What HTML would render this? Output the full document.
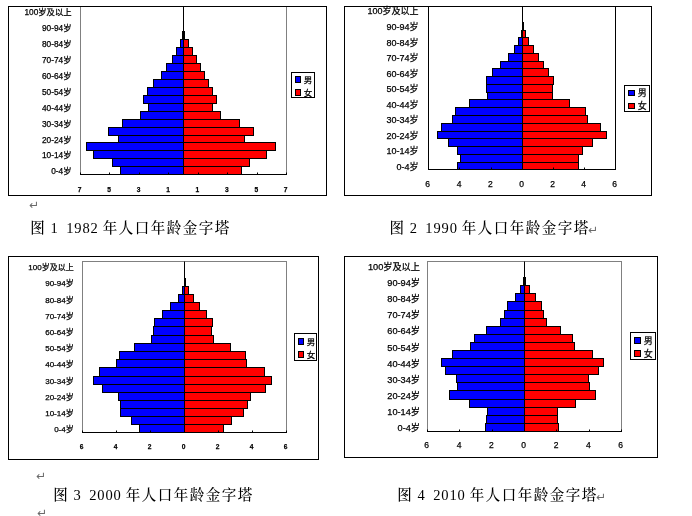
<!DOCTYPE html>
<html lang="zh"><head><meta charset="utf-8"><title>人口年龄金字塔</title>
<style>
html,body{margin:0;padding:0;background:#fff;}
body{width:692px;height:516px;overflow:hidden;}
svg{display:block;will-change:transform;}
.lab{font-family:"Liberation Sans","Noto Sans CJK SC",sans-serif;fill:#000;stroke:#000;stroke-width:0.25px;}
.cap{font-family:"Liberation Serif","Noto Serif CJK SC",serif;font-size:14.5px;fill:#000;font-weight:500;}
.mk{font-family:"DejaVu Sans","Liberation Sans",sans-serif;font-size:12px;fill:#6a6a6a;}
</style></head><body>
<svg width="692" height="516" viewBox="0 0 692 516">
<rect x="0" y="0" width="692" height="516" fill="#ffffff"/>
<g>
<rect x="80.5" y="6.5" width="206" height="168" fill="#fff" stroke="#808080" stroke-width="1"/>
<rect x="8.5" y="6.5" width="318" height="189" fill="none" stroke="#000" stroke-width="1"/>
<rect x="182.5" y="31.5" width="1" height="8" fill="#0000ff" stroke="#000" stroke-width="1"/>
<rect x="183.5" y="31.5" width="1" height="8" fill="#ff0000" stroke="#000" stroke-width="1"/>
<rect x="180.5" y="39.5" width="3" height="8" fill="#0000ff" stroke="#000" stroke-width="1"/>
<rect x="183.5" y="39.5" width="5" height="8" fill="#ff0000" stroke="#000" stroke-width="1"/>
<rect x="176.5" y="47.5" width="7" height="8" fill="#0000ff" stroke="#000" stroke-width="1"/>
<rect x="183.5" y="47.5" width="9" height="8" fill="#ff0000" stroke="#000" stroke-width="1"/>
<rect x="172.5" y="55.5" width="11" height="8" fill="#0000ff" stroke="#000" stroke-width="1"/>
<rect x="183.5" y="55.5" width="13" height="8" fill="#ff0000" stroke="#000" stroke-width="1"/>
<rect x="166.5" y="63.5" width="17" height="8" fill="#0000ff" stroke="#000" stroke-width="1"/>
<rect x="183.5" y="63.5" width="17" height="8" fill="#ff0000" stroke="#000" stroke-width="1"/>
<rect x="161.5" y="71.5" width="22" height="8" fill="#0000ff" stroke="#000" stroke-width="1"/>
<rect x="183.5" y="71.5" width="21" height="8" fill="#ff0000" stroke="#000" stroke-width="1"/>
<rect x="153.5" y="79.5" width="30" height="8" fill="#0000ff" stroke="#000" stroke-width="1"/>
<rect x="183.5" y="79.5" width="25" height="8" fill="#ff0000" stroke="#000" stroke-width="1"/>
<rect x="147.5" y="87.5" width="36" height="8" fill="#0000ff" stroke="#000" stroke-width="1"/>
<rect x="183.5" y="87.5" width="29" height="8" fill="#ff0000" stroke="#000" stroke-width="1"/>
<rect x="143.5" y="95.5" width="40" height="8" fill="#0000ff" stroke="#000" stroke-width="1"/>
<rect x="183.5" y="95.5" width="33" height="8" fill="#ff0000" stroke="#000" stroke-width="1"/>
<rect x="148.5" y="103.5" width="35" height="8" fill="#0000ff" stroke="#000" stroke-width="1"/>
<rect x="183.5" y="103.5" width="29" height="8" fill="#ff0000" stroke="#000" stroke-width="1"/>
<rect x="140.5" y="111.5" width="43" height="8" fill="#0000ff" stroke="#000" stroke-width="1"/>
<rect x="183.5" y="111.5" width="37" height="8" fill="#ff0000" stroke="#000" stroke-width="1"/>
<rect x="122.5" y="119.5" width="61" height="8" fill="#0000ff" stroke="#000" stroke-width="1"/>
<rect x="183.5" y="119.5" width="56" height="8" fill="#ff0000" stroke="#000" stroke-width="1"/>
<rect x="108.5" y="127.5" width="75" height="8" fill="#0000ff" stroke="#000" stroke-width="1"/>
<rect x="183.5" y="127.5" width="70" height="8" fill="#ff0000" stroke="#000" stroke-width="1"/>
<rect x="118.5" y="135.5" width="65" height="7" fill="#0000ff" stroke="#000" stroke-width="1"/>
<rect x="183.5" y="135.5" width="61" height="7" fill="#ff0000" stroke="#000" stroke-width="1"/>
<rect x="86.5" y="142.5" width="97" height="8" fill="#0000ff" stroke="#000" stroke-width="1"/>
<rect x="183.5" y="142.5" width="92" height="8" fill="#ff0000" stroke="#000" stroke-width="1"/>
<rect x="93.5" y="150.5" width="90" height="8" fill="#0000ff" stroke="#000" stroke-width="1"/>
<rect x="183.5" y="150.5" width="83" height="8" fill="#ff0000" stroke="#000" stroke-width="1"/>
<rect x="112.5" y="158.5" width="71" height="8" fill="#0000ff" stroke="#000" stroke-width="1"/>
<rect x="183.5" y="158.5" width="66" height="8" fill="#ff0000" stroke="#000" stroke-width="1"/>
<rect x="120.5" y="166.5" width="63" height="8" fill="#0000ff" stroke="#000" stroke-width="1"/>
<rect x="183.5" y="166.5" width="58" height="8" fill="#ff0000" stroke="#000" stroke-width="1"/>
<line x1="183.5" y1="6.5" x2="183.5" y2="174.5" stroke="#000" stroke-width="1"/>
<line x1="80" y1="174.5" x2="287" y2="174.5" stroke="#000" stroke-width="1"/>
<line x1="80.5" y1="172.5" x2="80.5" y2="174.5" stroke="#000" stroke-width="1"/>
<line x1="109.5" y1="172.5" x2="109.5" y2="174.5" stroke="#000" stroke-width="1"/>
<line x1="139.5" y1="172.5" x2="139.5" y2="174.5" stroke="#000" stroke-width="1"/>
<line x1="168.5" y1="172.5" x2="168.5" y2="174.5" stroke="#000" stroke-width="1"/>
<line x1="198.5" y1="172.5" x2="198.5" y2="174.5" stroke="#000" stroke-width="1"/>
<line x1="227.5" y1="172.5" x2="227.5" y2="174.5" stroke="#000" stroke-width="1"/>
<line x1="257.5" y1="172.5" x2="257.5" y2="174.5" stroke="#000" stroke-width="1"/>
<line x1="286.5" y1="172.5" x2="286.5" y2="174.5" stroke="#000" stroke-width="1"/>
<text class="lab" x="79.7" y="191.5" font-size="8" font-weight="bold" textLength="3.7" lengthAdjust="spacingAndGlyphs" text-anchor="middle">7</text>
<text class="lab" x="109.13" y="191.5" font-size="8" font-weight="bold" textLength="3.7" lengthAdjust="spacingAndGlyphs" text-anchor="middle">5</text>
<text class="lab" x="138.56" y="191.5" font-size="8" font-weight="bold" textLength="3.7" lengthAdjust="spacingAndGlyphs" text-anchor="middle">3</text>
<text class="lab" x="167.99" y="191.5" font-size="8" font-weight="bold" textLength="3.7" lengthAdjust="spacingAndGlyphs" text-anchor="middle">1</text>
<text class="lab" x="197.41" y="191.5" font-size="8" font-weight="bold" textLength="3.7" lengthAdjust="spacingAndGlyphs" text-anchor="middle">1</text>
<text class="lab" x="226.84" y="191.5" font-size="8" font-weight="bold" textLength="3.7" lengthAdjust="spacingAndGlyphs" text-anchor="middle">3</text>
<text class="lab" x="256.27" y="191.5" font-size="8" font-weight="bold" textLength="3.7" lengthAdjust="spacingAndGlyphs" text-anchor="middle">5</text>
<text class="lab" x="285.7" y="191.5" font-size="8" font-weight="bold" textLength="3.7" lengthAdjust="spacingAndGlyphs" text-anchor="middle">7</text>
<text class="lab" x="71.5" y="14.57" font-size="8.3" text-anchor="end">100岁及以上</text>
<text class="lab" x="71.5" y="31.45" font-size="8.3" text-anchor="end">90-94岁</text>
<text class="lab" x="71.5" y="47.33" font-size="8.3" text-anchor="end">80-84岁</text>
<text class="lab" x="71.5" y="63.21" font-size="8.3" text-anchor="end">70-74岁</text>
<text class="lab" x="71.5" y="79.09" font-size="8.3" text-anchor="end">60-64岁</text>
<text class="lab" x="71.5" y="94.97" font-size="8.3" text-anchor="end">50-54岁</text>
<text class="lab" x="71.5" y="110.85" font-size="8.3" text-anchor="end">40-44岁</text>
<text class="lab" x="71.5" y="126.73" font-size="8.3" text-anchor="end">30-34岁</text>
<text class="lab" x="71.5" y="142.61" font-size="8.3" text-anchor="end">20-24岁</text>
<text class="lab" x="71.5" y="158.49" font-size="8.3" text-anchor="end">10-14岁</text>
<text class="lab" x="71.5" y="174.37" font-size="8.3" text-anchor="end">0-4岁</text>
<rect x="291.5" y="72.5" width="23" height="25" fill="#fff" stroke="#000" stroke-width="1"/>
<rect x="295.5" y="76.5" width="5" height="6" fill="#0000ff" stroke="#000" stroke-width="1"/>
<rect x="295.5" y="89.5" width="5" height="6" fill="#ff0000" stroke="#000" stroke-width="1"/>
<text class="lab" x="303.8" y="83.2" font-size="8.5">男</text>
<text class="lab" x="303.8" y="96.2" font-size="8.5">女</text>
</g>
<g>
<rect x="428.5" y="6.5" width="187" height="163" fill="#fff" stroke="#000000" stroke-width="1"/>
<rect x="344.5" y="6.5" width="307" height="189" fill="none" stroke="#000" stroke-width="1"/>
<rect x="522.5" y="22.5" width="1" height="8" fill="#ff0000" stroke="#000" stroke-width="1"/>
<rect x="521.5" y="30.5" width="1" height="7" fill="#0000ff" stroke="#000" stroke-width="1"/>
<rect x="522.5" y="30.5" width="3" height="7" fill="#ff0000" stroke="#000" stroke-width="1"/>
<rect x="518.5" y="37.5" width="4" height="8" fill="#0000ff" stroke="#000" stroke-width="1"/>
<rect x="522.5" y="37.5" width="6" height="8" fill="#ff0000" stroke="#000" stroke-width="1"/>
<rect x="514.5" y="45.5" width="8" height="8" fill="#0000ff" stroke="#000" stroke-width="1"/>
<rect x="522.5" y="45.5" width="11" height="8" fill="#ff0000" stroke="#000" stroke-width="1"/>
<rect x="508.5" y="53.5" width="14" height="8" fill="#0000ff" stroke="#000" stroke-width="1"/>
<rect x="522.5" y="53.5" width="16" height="8" fill="#ff0000" stroke="#000" stroke-width="1"/>
<rect x="500.5" y="61.5" width="22" height="7" fill="#0000ff" stroke="#000" stroke-width="1"/>
<rect x="522.5" y="61.5" width="21" height="7" fill="#ff0000" stroke="#000" stroke-width="1"/>
<rect x="492.5" y="68.5" width="30" height="8" fill="#0000ff" stroke="#000" stroke-width="1"/>
<rect x="522.5" y="68.5" width="26" height="8" fill="#ff0000" stroke="#000" stroke-width="1"/>
<rect x="486.5" y="76.5" width="36" height="8" fill="#0000ff" stroke="#000" stroke-width="1"/>
<rect x="522.5" y="76.5" width="31" height="8" fill="#ff0000" stroke="#000" stroke-width="1"/>
<rect x="486.5" y="84.5" width="36" height="8" fill="#0000ff" stroke="#000" stroke-width="1"/>
<rect x="522.5" y="84.5" width="30" height="8" fill="#ff0000" stroke="#000" stroke-width="1"/>
<rect x="487.5" y="92.5" width="35" height="7" fill="#0000ff" stroke="#000" stroke-width="1"/>
<rect x="522.5" y="92.5" width="30" height="7" fill="#ff0000" stroke="#000" stroke-width="1"/>
<rect x="469.5" y="99.5" width="53" height="8" fill="#0000ff" stroke="#000" stroke-width="1"/>
<rect x="522.5" y="99.5" width="47" height="8" fill="#ff0000" stroke="#000" stroke-width="1"/>
<rect x="455.5" y="107.5" width="67" height="8" fill="#0000ff" stroke="#000" stroke-width="1"/>
<rect x="522.5" y="107.5" width="63" height="8" fill="#ff0000" stroke="#000" stroke-width="1"/>
<rect x="452.5" y="115.5" width="70" height="8" fill="#0000ff" stroke="#000" stroke-width="1"/>
<rect x="522.5" y="115.5" width="65" height="8" fill="#ff0000" stroke="#000" stroke-width="1"/>
<rect x="441.5" y="123.5" width="81" height="8" fill="#0000ff" stroke="#000" stroke-width="1"/>
<rect x="522.5" y="123.5" width="78" height="8" fill="#ff0000" stroke="#000" stroke-width="1"/>
<rect x="437.5" y="131.5" width="85" height="7" fill="#0000ff" stroke="#000" stroke-width="1"/>
<rect x="522.5" y="131.5" width="84" height="7" fill="#ff0000" stroke="#000" stroke-width="1"/>
<rect x="448.5" y="138.5" width="74" height="8" fill="#0000ff" stroke="#000" stroke-width="1"/>
<rect x="522.5" y="138.5" width="70" height="8" fill="#ff0000" stroke="#000" stroke-width="1"/>
<rect x="457.5" y="146.5" width="65" height="8" fill="#0000ff" stroke="#000" stroke-width="1"/>
<rect x="522.5" y="146.5" width="60" height="8" fill="#ff0000" stroke="#000" stroke-width="1"/>
<rect x="460.5" y="154.5" width="62" height="8" fill="#0000ff" stroke="#000" stroke-width="1"/>
<rect x="522.5" y="154.5" width="56" height="8" fill="#ff0000" stroke="#000" stroke-width="1"/>
<rect x="457.5" y="162.5" width="65" height="7" fill="#0000ff" stroke="#000" stroke-width="1"/>
<rect x="522.5" y="162.5" width="56" height="7" fill="#ff0000" stroke="#000" stroke-width="1"/>
<line x1="522.5" y1="6.5" x2="522.5" y2="169.5" stroke="#000" stroke-width="1"/>
<line x1="428" y1="169.5" x2="616" y2="169.5" stroke="#000" stroke-width="1"/>
<line x1="428.5" y1="167.5" x2="428.5" y2="169.5" stroke="#000" stroke-width="1"/>
<line x1="459.5" y1="167.5" x2="459.5" y2="169.5" stroke="#000" stroke-width="1"/>
<line x1="491.5" y1="167.5" x2="491.5" y2="169.5" stroke="#000" stroke-width="1"/>
<line x1="522.5" y1="167.5" x2="522.5" y2="169.5" stroke="#000" stroke-width="1"/>
<line x1="553.5" y1="167.5" x2="553.5" y2="169.5" stroke="#000" stroke-width="1"/>
<line x1="584.5" y1="167.5" x2="584.5" y2="169.5" stroke="#000" stroke-width="1"/>
<line x1="615.5" y1="167.5" x2="615.5" y2="169.5" stroke="#000" stroke-width="1"/>
<text class="lab" x="427.7" y="186.5" font-size="8.5" text-anchor="middle">6</text>
<text class="lab" x="459.03" y="186.5" font-size="8.5" text-anchor="middle">4</text>
<text class="lab" x="490.37" y="186.5" font-size="8.5" text-anchor="middle">2</text>
<text class="lab" x="521.7" y="186.5" font-size="8.5" text-anchor="middle">0</text>
<text class="lab" x="552.7" y="186.5" font-size="8.5" text-anchor="middle">2</text>
<text class="lab" x="583.7" y="186.5" font-size="8.5" text-anchor="middle">4</text>
<text class="lab" x="614.7" y="186.5" font-size="8.5" text-anchor="middle">6</text>
<text class="lab" x="418.5" y="13.98" font-size="9" text-anchor="end">100岁及以上</text>
<text class="lab" x="418.5" y="30.47" font-size="9" text-anchor="end">90-94岁</text>
<text class="lab" x="418.5" y="45.98" font-size="9" text-anchor="end">80-84岁</text>
<text class="lab" x="418.5" y="61.48" font-size="9" text-anchor="end">70-74岁</text>
<text class="lab" x="418.5" y="76.98" font-size="9" text-anchor="end">60-64岁</text>
<text class="lab" x="418.5" y="92.48" font-size="9" text-anchor="end">50-54岁</text>
<text class="lab" x="418.5" y="107.98" font-size="9" text-anchor="end">40-44岁</text>
<text class="lab" x="418.5" y="123.48" font-size="9" text-anchor="end">30-34岁</text>
<text class="lab" x="418.5" y="138.97" font-size="9" text-anchor="end">20-24岁</text>
<text class="lab" x="418.5" y="154.47" font-size="9" text-anchor="end">10-14岁</text>
<text class="lab" x="418.5" y="169.97" font-size="9" text-anchor="end">0-4岁</text>
<rect x="624.5" y="85.5" width="25" height="26" fill="#fff" stroke="#000" stroke-width="1"/>
<rect x="628.5" y="90.5" width="6" height="5" fill="#0000ff" stroke="#000" stroke-width="1"/>
<rect x="628.5" y="103.5" width="6" height="5" fill="#ff0000" stroke="#000" stroke-width="1"/>
<text class="lab" x="637.8" y="96.2" font-size="9">男</text>
<text class="lab" x="637.8" y="109.2" font-size="9">女</text>
</g>
<g>
<rect x="82.5" y="261.5" width="204" height="171" fill="#fff" stroke="#808080" stroke-width="1"/>
<rect x="8.5" y="256.5" width="310" height="203" fill="none" stroke="#000" stroke-width="1"/>
<rect x="184.5" y="278.5" width="1" height="8" fill="#ff0000" stroke="#000" stroke-width="1"/>
<rect x="182.5" y="286.5" width="2" height="8" fill="#0000ff" stroke="#000" stroke-width="1"/>
<rect x="184.5" y="286.5" width="4" height="8" fill="#ff0000" stroke="#000" stroke-width="1"/>
<rect x="178.5" y="294.5" width="6" height="8" fill="#0000ff" stroke="#000" stroke-width="1"/>
<rect x="184.5" y="294.5" width="9" height="8" fill="#ff0000" stroke="#000" stroke-width="1"/>
<rect x="170.5" y="302.5" width="14" height="8" fill="#0000ff" stroke="#000" stroke-width="1"/>
<rect x="184.5" y="302.5" width="15" height="8" fill="#ff0000" stroke="#000" stroke-width="1"/>
<rect x="162.5" y="310.5" width="22" height="8" fill="#0000ff" stroke="#000" stroke-width="1"/>
<rect x="184.5" y="310.5" width="22" height="8" fill="#ff0000" stroke="#000" stroke-width="1"/>
<rect x="154.5" y="318.5" width="30" height="8" fill="#0000ff" stroke="#000" stroke-width="1"/>
<rect x="184.5" y="318.5" width="28" height="8" fill="#ff0000" stroke="#000" stroke-width="1"/>
<rect x="153.5" y="326.5" width="31" height="9" fill="#0000ff" stroke="#000" stroke-width="1"/>
<rect x="184.5" y="326.5" width="27" height="9" fill="#ff0000" stroke="#000" stroke-width="1"/>
<rect x="151.5" y="335.5" width="33" height="8" fill="#0000ff" stroke="#000" stroke-width="1"/>
<rect x="184.5" y="335.5" width="29" height="8" fill="#ff0000" stroke="#000" stroke-width="1"/>
<rect x="134.5" y="343.5" width="50" height="8" fill="#0000ff" stroke="#000" stroke-width="1"/>
<rect x="184.5" y="343.5" width="46" height="8" fill="#ff0000" stroke="#000" stroke-width="1"/>
<rect x="119.5" y="351.5" width="65" height="8" fill="#0000ff" stroke="#000" stroke-width="1"/>
<rect x="184.5" y="351.5" width="61" height="8" fill="#ff0000" stroke="#000" stroke-width="1"/>
<rect x="116.5" y="359.5" width="68" height="8" fill="#0000ff" stroke="#000" stroke-width="1"/>
<rect x="184.5" y="359.5" width="62" height="8" fill="#ff0000" stroke="#000" stroke-width="1"/>
<rect x="99.5" y="367.5" width="85" height="9" fill="#0000ff" stroke="#000" stroke-width="1"/>
<rect x="184.5" y="367.5" width="80" height="9" fill="#ff0000" stroke="#000" stroke-width="1"/>
<rect x="93.5" y="376.5" width="91" height="8" fill="#0000ff" stroke="#000" stroke-width="1"/>
<rect x="184.5" y="376.5" width="87" height="8" fill="#ff0000" stroke="#000" stroke-width="1"/>
<rect x="102.5" y="384.5" width="82" height="8" fill="#0000ff" stroke="#000" stroke-width="1"/>
<rect x="184.5" y="384.5" width="81" height="8" fill="#ff0000" stroke="#000" stroke-width="1"/>
<rect x="118.5" y="392.5" width="66" height="8" fill="#0000ff" stroke="#000" stroke-width="1"/>
<rect x="184.5" y="392.5" width="66" height="8" fill="#ff0000" stroke="#000" stroke-width="1"/>
<rect x="120.5" y="400.5" width="64" height="8" fill="#0000ff" stroke="#000" stroke-width="1"/>
<rect x="184.5" y="400.5" width="63" height="8" fill="#ff0000" stroke="#000" stroke-width="1"/>
<rect x="120.5" y="408.5" width="64" height="8" fill="#0000ff" stroke="#000" stroke-width="1"/>
<rect x="184.5" y="408.5" width="59" height="8" fill="#ff0000" stroke="#000" stroke-width="1"/>
<rect x="131.5" y="416.5" width="53" height="8" fill="#0000ff" stroke="#000" stroke-width="1"/>
<rect x="184.5" y="416.5" width="47" height="8" fill="#ff0000" stroke="#000" stroke-width="1"/>
<rect x="139.5" y="424.5" width="45" height="8" fill="#0000ff" stroke="#000" stroke-width="1"/>
<rect x="184.5" y="424.5" width="39" height="8" fill="#ff0000" stroke="#000" stroke-width="1"/>
<line x1="184.5" y1="261.5" x2="184.5" y2="432.5" stroke="#000" stroke-width="1"/>
<line x1="82" y1="432.5" x2="287" y2="432.5" stroke="#000" stroke-width="1"/>
<line x1="82.5" y1="430.5" x2="82.5" y2="432.5" stroke="#000" stroke-width="1"/>
<line x1="116.5" y1="430.5" x2="116.5" y2="432.5" stroke="#000" stroke-width="1"/>
<line x1="150.5" y1="430.5" x2="150.5" y2="432.5" stroke="#000" stroke-width="1"/>
<line x1="184.5" y1="430.5" x2="184.5" y2="432.5" stroke="#000" stroke-width="1"/>
<line x1="218.5" y1="430.5" x2="218.5" y2="432.5" stroke="#000" stroke-width="1"/>
<line x1="252.5" y1="430.5" x2="252.5" y2="432.5" stroke="#000" stroke-width="1"/>
<line x1="286.5" y1="430.5" x2="286.5" y2="432.5" stroke="#000" stroke-width="1"/>
<text class="lab" x="81.7" y="449" font-size="8" font-weight="bold" textLength="3.7" lengthAdjust="spacingAndGlyphs" text-anchor="middle">6</text>
<text class="lab" x="115.7" y="449" font-size="8" font-weight="bold" textLength="3.7" lengthAdjust="spacingAndGlyphs" text-anchor="middle">4</text>
<text class="lab" x="149.7" y="449" font-size="8" font-weight="bold" textLength="3.7" lengthAdjust="spacingAndGlyphs" text-anchor="middle">2</text>
<text class="lab" x="183.7" y="449" font-size="8" font-weight="bold" textLength="3.7" lengthAdjust="spacingAndGlyphs" text-anchor="middle">0</text>
<text class="lab" x="217.7" y="449" font-size="8" font-weight="bold" textLength="3.7" lengthAdjust="spacingAndGlyphs" text-anchor="middle">2</text>
<text class="lab" x="251.7" y="449" font-size="8" font-weight="bold" textLength="3.7" lengthAdjust="spacingAndGlyphs" text-anchor="middle">4</text>
<text class="lab" x="285.7" y="449" font-size="8" font-weight="bold" textLength="3.7" lengthAdjust="spacingAndGlyphs" text-anchor="middle">6</text>
<text class="lab" x="73.7" y="269.75" font-size="8" text-anchor="end">100岁及以上</text>
<text class="lab" x="73.7" y="286.45" font-size="8" text-anchor="end">90-94岁</text>
<text class="lab" x="73.7" y="302.65" font-size="8" text-anchor="end">80-84岁</text>
<text class="lab" x="73.7" y="318.85" font-size="8" text-anchor="end">70-74岁</text>
<text class="lab" x="73.7" y="335.05" font-size="8" text-anchor="end">60-64岁</text>
<text class="lab" x="73.7" y="351.25" font-size="8" text-anchor="end">50-54岁</text>
<text class="lab" x="73.7" y="367.45" font-size="8" text-anchor="end">40-44岁</text>
<text class="lab" x="73.7" y="383.65" font-size="8" text-anchor="end">30-34岁</text>
<text class="lab" x="73.7" y="399.85" font-size="8" text-anchor="end">20-24岁</text>
<text class="lab" x="73.7" y="416.05" font-size="8" text-anchor="end">10-14岁</text>
<text class="lab" x="73.7" y="432.25" font-size="8" text-anchor="end">0-4岁</text>
<rect x="294.5" y="333.5" width="22" height="27" fill="#fff" stroke="#000" stroke-width="1"/>
<rect x="298.5" y="338.5" width="5" height="6" fill="#0000ff" stroke="#000" stroke-width="1"/>
<rect x="298.5" y="351.5" width="5" height="6" fill="#ff0000" stroke="#000" stroke-width="1"/>
<text class="lab" x="306.8" y="345.2" font-size="8.5">男</text>
<text class="lab" x="306.8" y="358.2" font-size="8.5">女</text>
</g>
<g>
<rect x="427.5" y="261.5" width="194" height="170" fill="#fff" stroke="#808080" stroke-width="1"/>
<rect x="344.5" y="256.5" width="313" height="201" fill="none" stroke="#000" stroke-width="1"/>
<rect x="523.5" y="277.5" width="1" height="8" fill="#0000ff" stroke="#000" stroke-width="1"/>
<rect x="524.5" y="277.5" width="1" height="8" fill="#ff0000" stroke="#000" stroke-width="1"/>
<rect x="520.5" y="285.5" width="4" height="8" fill="#0000ff" stroke="#000" stroke-width="1"/>
<rect x="524.5" y="285.5" width="5" height="8" fill="#ff0000" stroke="#000" stroke-width="1"/>
<rect x="515.5" y="293.5" width="9" height="8" fill="#0000ff" stroke="#000" stroke-width="1"/>
<rect x="524.5" y="293.5" width="11" height="8" fill="#ff0000" stroke="#000" stroke-width="1"/>
<rect x="507.5" y="301.5" width="17" height="9" fill="#0000ff" stroke="#000" stroke-width="1"/>
<rect x="524.5" y="301.5" width="17" height="9" fill="#ff0000" stroke="#000" stroke-width="1"/>
<rect x="504.5" y="310.5" width="20" height="8" fill="#0000ff" stroke="#000" stroke-width="1"/>
<rect x="524.5" y="310.5" width="19" height="8" fill="#ff0000" stroke="#000" stroke-width="1"/>
<rect x="500.5" y="318.5" width="24" height="8" fill="#0000ff" stroke="#000" stroke-width="1"/>
<rect x="524.5" y="318.5" width="22" height="8" fill="#ff0000" stroke="#000" stroke-width="1"/>
<rect x="486.5" y="326.5" width="38" height="8" fill="#0000ff" stroke="#000" stroke-width="1"/>
<rect x="524.5" y="326.5" width="36" height="8" fill="#ff0000" stroke="#000" stroke-width="1"/>
<rect x="474.5" y="334.5" width="50" height="8" fill="#0000ff" stroke="#000" stroke-width="1"/>
<rect x="524.5" y="334.5" width="48" height="8" fill="#ff0000" stroke="#000" stroke-width="1"/>
<rect x="470.5" y="342.5" width="54" height="8" fill="#0000ff" stroke="#000" stroke-width="1"/>
<rect x="524.5" y="342.5" width="50" height="8" fill="#ff0000" stroke="#000" stroke-width="1"/>
<rect x="452.5" y="350.5" width="72" height="8" fill="#0000ff" stroke="#000" stroke-width="1"/>
<rect x="524.5" y="350.5" width="68" height="8" fill="#ff0000" stroke="#000" stroke-width="1"/>
<rect x="441.5" y="358.5" width="83" height="8" fill="#0000ff" stroke="#000" stroke-width="1"/>
<rect x="524.5" y="358.5" width="79" height="8" fill="#ff0000" stroke="#000" stroke-width="1"/>
<rect x="445.5" y="366.5" width="79" height="8" fill="#0000ff" stroke="#000" stroke-width="1"/>
<rect x="524.5" y="366.5" width="74" height="8" fill="#ff0000" stroke="#000" stroke-width="1"/>
<rect x="456.5" y="374.5" width="68" height="8" fill="#0000ff" stroke="#000" stroke-width="1"/>
<rect x="524.5" y="374.5" width="64" height="8" fill="#ff0000" stroke="#000" stroke-width="1"/>
<rect x="457.5" y="382.5" width="67" height="8" fill="#0000ff" stroke="#000" stroke-width="1"/>
<rect x="524.5" y="382.5" width="65" height="8" fill="#ff0000" stroke="#000" stroke-width="1"/>
<rect x="449.5" y="390.5" width="75" height="9" fill="#0000ff" stroke="#000" stroke-width="1"/>
<rect x="524.5" y="390.5" width="71" height="9" fill="#ff0000" stroke="#000" stroke-width="1"/>
<rect x="469.5" y="399.5" width="55" height="8" fill="#0000ff" stroke="#000" stroke-width="1"/>
<rect x="524.5" y="399.5" width="51" height="8" fill="#ff0000" stroke="#000" stroke-width="1"/>
<rect x="487.5" y="407.5" width="37" height="8" fill="#0000ff" stroke="#000" stroke-width="1"/>
<rect x="524.5" y="407.5" width="33" height="8" fill="#ff0000" stroke="#000" stroke-width="1"/>
<rect x="486.5" y="415.5" width="38" height="8" fill="#0000ff" stroke="#000" stroke-width="1"/>
<rect x="524.5" y="415.5" width="33" height="8" fill="#ff0000" stroke="#000" stroke-width="1"/>
<rect x="485.5" y="423.5" width="39" height="8" fill="#0000ff" stroke="#000" stroke-width="1"/>
<rect x="524.5" y="423.5" width="34" height="8" fill="#ff0000" stroke="#000" stroke-width="1"/>
<line x1="524.5" y1="261.5" x2="524.5" y2="431.5" stroke="#000" stroke-width="1"/>
<line x1="427" y1="431.5" x2="622" y2="431.5" stroke="#000" stroke-width="1"/>
<line x1="427.5" y1="429.5" x2="427.5" y2="431.5" stroke="#000" stroke-width="1"/>
<line x1="459.5" y1="429.5" x2="459.5" y2="431.5" stroke="#000" stroke-width="1"/>
<line x1="492.5" y1="429.5" x2="492.5" y2="431.5" stroke="#000" stroke-width="1"/>
<line x1="524.5" y1="429.5" x2="524.5" y2="431.5" stroke="#000" stroke-width="1"/>
<line x1="556.5" y1="429.5" x2="556.5" y2="431.5" stroke="#000" stroke-width="1"/>
<line x1="589.5" y1="429.5" x2="589.5" y2="431.5" stroke="#000" stroke-width="1"/>
<line x1="621.5" y1="429.5" x2="621.5" y2="431.5" stroke="#000" stroke-width="1"/>
<text class="lab" x="426.7" y="447.5" font-size="8.5" text-anchor="middle">6</text>
<text class="lab" x="459.03" y="447.5" font-size="8.5" text-anchor="middle">4</text>
<text class="lab" x="491.37" y="447.5" font-size="8.5" text-anchor="middle">2</text>
<text class="lab" x="523.7" y="447.5" font-size="8.5" text-anchor="middle">0</text>
<text class="lab" x="556.03" y="447.5" font-size="8.5" text-anchor="middle">2</text>
<text class="lab" x="588.37" y="447.5" font-size="8.5" text-anchor="middle">4</text>
<text class="lab" x="620.7" y="447.5" font-size="8.5" text-anchor="middle">6</text>
<text class="lab" x="420" y="269.79" font-size="9.2" text-anchor="end">100岁及以上</text>
<text class="lab" x="420" y="285.94" font-size="9.2" text-anchor="end">90-94岁</text>
<text class="lab" x="420" y="302.09" font-size="9.2" text-anchor="end">80-84岁</text>
<text class="lab" x="420" y="318.24" font-size="9.2" text-anchor="end">70-74岁</text>
<text class="lab" x="420" y="334.39" font-size="9.2" text-anchor="end">60-64岁</text>
<text class="lab" x="420" y="350.54" font-size="9.2" text-anchor="end">50-54岁</text>
<text class="lab" x="420" y="366.69" font-size="9.2" text-anchor="end">40-44岁</text>
<text class="lab" x="420" y="382.84" font-size="9.2" text-anchor="end">30-34岁</text>
<text class="lab" x="420" y="398.99" font-size="9.2" text-anchor="end">20-24岁</text>
<text class="lab" x="420" y="415.14" font-size="9.2" text-anchor="end">10-14岁</text>
<text class="lab" x="420" y="431.29" font-size="9.2" text-anchor="end">0-4岁</text>
<rect x="630.5" y="332.5" width="25" height="27" fill="#fff" stroke="#000" stroke-width="1"/>
<rect x="634.5" y="337.5" width="6" height="6" fill="#0000ff" stroke="#000" stroke-width="1"/>
<rect x="634.5" y="350.5" width="6" height="6" fill="#ff0000" stroke="#000" stroke-width="1"/>
<text class="lab" x="643.8" y="344.2" font-size="9">男</text>
<text class="lab" x="643.8" y="357.2" font-size="9">女</text>
</g>
<text class="cap" x="37.5 45.9 54.2 62 69.8 77.9 86 94.1 102 109.9 125.9 141.9 157.9 173.9 189.9 205.9 221.9" y="232.5" text-anchor="middle">图 1 1982 年人口年龄金字塔</text>
<text class="cap" x="396.65 405.05 413.35 421.15 428.95 437.05 445.15 453.25 461.15 469.05 485.05 501.05 517.05 533.05 549.05 565.05 581.05" y="232.5" text-anchor="middle">图 2 1990 年人口年龄金字塔</text>
<text class="cap" x="60.5 68.9 77.2 85 92.8 100.9 109 117.1 125 132.9 148.9 164.9 180.9 196.9 212.9 228.9 244.9" y="499.5" text-anchor="middle">图 3 2000 年人口年龄金字塔</text>
<text class="cap" x="404.5 412.9 421.2 429 436.8 444.9 453 461.1 469 476.9 492.9 508.9 524.9 540.9 556.9 572.9 588.9" y="499.5" text-anchor="middle">图 4 2010 年人口年龄金字塔</text>
<text class="mk" x="34" y="208.5" text-anchor="middle">↵</text>
<text class="mk" x="593" y="233.5" text-anchor="middle">↵</text>
<text class="mk" x="41" y="479.5" text-anchor="middle">↵</text>
<text class="mk" x="601" y="500.5" text-anchor="middle">↵</text>
<text class="mk" x="42" y="517" text-anchor="middle">↵</text>
</svg>
</body></html>
